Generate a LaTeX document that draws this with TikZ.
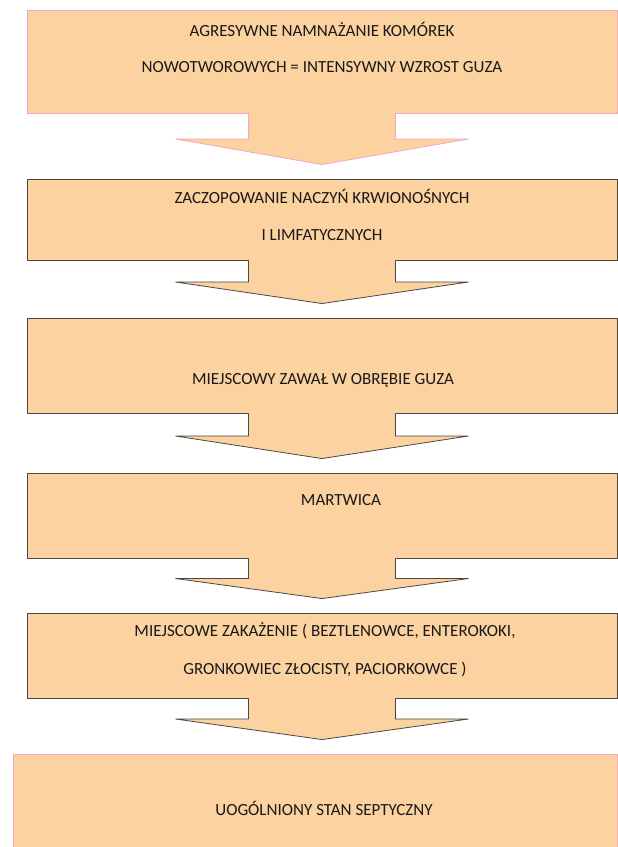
\documentclass[tikz,border=0pt]{standalone}
\usepackage{fontspec}
\setmainfont{Carlito}
\usetikzlibrary{calc}

\definecolor{brzoskwinia}{HTML}{FBD2A0}
\definecolor{rozowy}{HTML}{F4A7C3}
\definecolor{ciemny}{HTML}{4B4843}

% strzałka blokowa: z dolnej krawędzi #1 w stronę #2, obrys #3
\newcommand{\strzalka}[3]{%
  \fill[brzoskwinia] let \p1=(#1.south), \p2=(#2.north),
      \n1={(\y1+\y2+14pt)/2}, \n2={\y2+14pt} in
    (\x1-73.5pt,\y1+1pt) -- (\x1-73.5pt,\n1) -- (\x1-146.5pt,\n1)
    -- (\x1,\n2) -- (\x1+146.5pt,\n1) -- (\x1+73.5pt,\n1)
    -- (\x1+73.5pt,\y1+1pt) -- cycle;
  \draw[#3, line width=0.8pt, line join=miter] let \p1=(#1.south), \p2=(#2.north),
      \n1={(\y1+\y2+14pt)/2}, \n2={\y2+14pt} in
    (\x1-73.5pt,\y1) -- (\x1-73.5pt,\n1) -- (\x1-146.5pt,\n1)
    -- (\x1,\n2) -- (\x1+146.5pt,\n1) -- (\x1+73.5pt,\n1)
    -- (\x1+73.5pt,\y1);
}

\begin{document}
\begin{tikzpicture}[x=1pt, y=-1pt, font=\fontsize{17}{20}\selectfont,
    blok/.style={rectangle, fill=brzoskwinia, draw=ciemny, line width=0.9pt,
                 inner sep=0pt, minimum width=590pt},
    blokr/.style={blok, draw=rozowy},
    tekst/.style={inner sep=0pt, text=black!90}]

\clip (0,0) rectangle (618,847);

% ── Prostokąty ───────────────────────────────────────────────
\node[blokr, minimum height=103pt] (guz)      at (322, 61.5) {};
\node[blok,  minimum height=81pt]  (naczynia) at (322,219.5) {};
\node[blok,  minimum height=95pt]  (zawal)    at (322,365.5) {};
\node[blok,  minimum height=85pt]  (martwica) at (322,515.5) {};
\node[blok,  minimum height=85pt]  (zakazenie) at (322,655.5) {};
\node[blokr, minimum width=604pt, minimum height=101pt] (sepsa) at (315,804.5) {};

% ── Strzałki ─────────────────────────────────────────────────
\strzalka{guz}{naczynia}{rozowy}
\strzalka{naczynia}{zawal}{ciemny}
\strzalka{zawal}{martwica}{ciemny}
\strzalka{martwica}{zakazenie}{ciemny}
\strzalka{zakazenie}{sepsa}{ciemny}

% ── Teksty ───────────────────────────────────────────────────
\node[tekst] (guzA) at (322, 29) {AGRESYWNE NAMNAŻANIE KOMÓREK};
\node[tekst] (guzB) at (322, 67) {NOWOTWOROWYCH = INTENSYWNY WZROST GUZA};
\node[tekst] (naczyniaA) at (322,196) {ZACZOPOWANIE NACZYŃ KRWIONOŚNYCH};
\node[tekst] (naczyniaB) at (322,235) {I LIMFATYCZNYCH};
\node[tekst] (zawalT) at (323,380) {MIEJSCOWY ZAWAŁ W OBRĘBIE GUZA};
\node[tekst] (martwicaT) at (341,500) {MARTWICA};
\node[tekst] (zakazenieA) at (325,631)
    {MIEJSCOWE ZAKAŻENIE ( BEZTLENOWCE, ENTEROKOKI,};
\node[tekst] (zakazenieB) at (325,669)
    {GRONKOWIEC ZŁOCISTY, PACIORKOWCE )};
\node[tekst] (sepsaT) at (324,808) {UOGÓLNIONY STAN SEPTYCZNY};

\end{tikzpicture}
\end{document}
